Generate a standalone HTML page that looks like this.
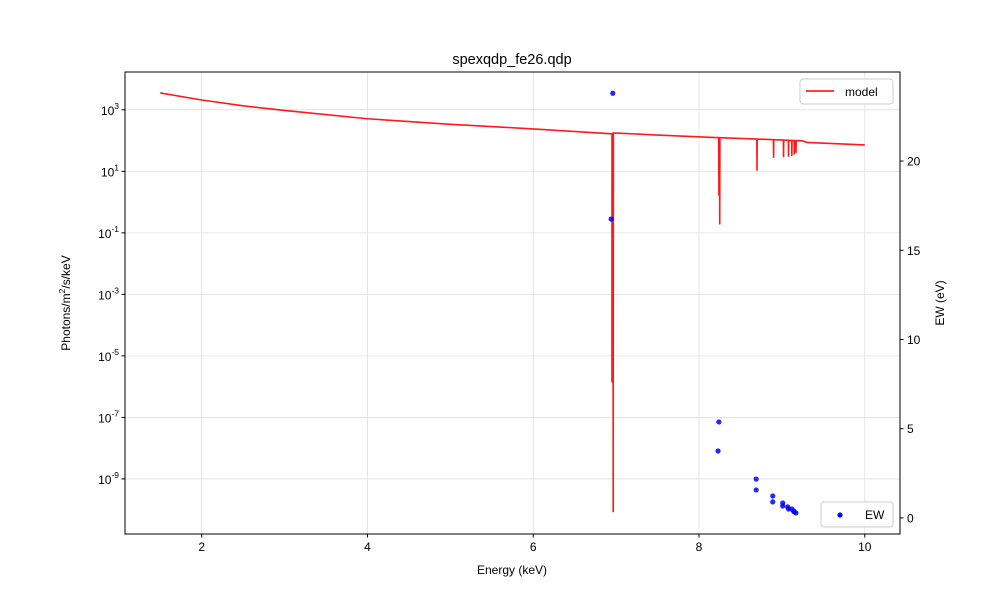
<!DOCTYPE html>
<html><head><meta charset="utf-8"><style>
body{margin:0;background:#fff}
svg text{font-family:"Liberation Sans","DejaVu Sans",sans-serif;fill:#000}
</style></head><body>
<svg id="c" width="1000" height="600" xmlns="http://www.w3.org/2000/svg">
<rect width="1000" height="600" fill="#fff"/>
<g id="grid"></g><g id="marks"></g><g id="axes"></g>
<text x="512" y="64" text-anchor="middle" font-size="14.5">spexqdp_fe26.qdp</text>
<text x="512" y="574" text-anchor="middle" font-size="12">Energy (keV)</text>
<text transform="translate(70,303) rotate(-90)" text-anchor="middle" font-size="12">Photons/m<tspan dy="-5" font-size="8.5">2</tspan><tspan dy="5">/s/keV</tspan></text>
<text transform="translate(944,303) rotate(-90)" text-anchor="middle" font-size="12">EW (eV)</text>
<g>
<rect x="800" y="79" width="93" height="25" rx="3" fill="#fff" fill-opacity="0.8" stroke="#ccc"/>
<line x1="806" y1="91" x2="834" y2="91" stroke="#ff0000" stroke-width="1.6"/>
<text x="845" y="96" font-size="12">model</text></g>
<g>
<rect x="821" y="502" width="72" height="25" rx="3" fill="#fff" fill-opacity="0.8" stroke="#ccc"/>
<circle cx="840" cy="515" r="2.6" fill="#0000ff"/>
<text x="865" y="519" font-size="12">EW</text></g>
</svg>
<script>
const contX=[1.5,2,2.5,3,4,5,6,6.95,6.97,7.5,8.2,9,9.25,9.3,10];
const contLog=[3.55,3.32,3.13,2.98,2.71,2.53,2.38,2.22,2.25,2.18,2.10,2.02,1.99,1.94,1.86];
const lineE=[6.95,6.965,8.24,8.25,8.70,8.90,9.02,9.08,9.12,9.15,9.17];
const lineMinLog=[-5.86,-10.08,0.21,-0.73,1.02,1.44,1.46,1.48,1.5,1.55,1.6];
const ewX=[6.96,6.94,8.24,8.23,8.69,8.69,8.89,8.89,9.01,9.01,9.07,9.08,9.12,9.14,9.15,9.17];
const ewY=[23.8,16.75,5.38,3.75,2.18,1.57,1.23,0.90,0.84,0.67,0.62,0.5,0.5,0.39,0.34,0.28];
const xTicks=[2,4,6,8,10];
const yLogTicks=[3,1,-1,-3,-5,-7,-9];
const yRTicks=[0,5,10,15,20];
const L=125,R=900,T=72,B=534;
const xMin=1.075,xMax=10.425,lMin=-10.79,lMax=4.23,rMin=-0.9,rMax=24.99;
const sx=v=>L+(v-xMin)/(xMax-xMin)*(R-L);
const sy=v=>B-(v-lMin)/(lMax-lMin)*(B-T);
const sr=v=>B-(v-rMin)/(rMax-rMin)*(B-T);
const NS="http://www.w3.org/2000/svg";
function mk(t,a,p){const e=document.createElementNS(NS,t);for(const k in a)e.setAttribute(k,a[k]);p.appendChild(e);return e;}
const grid=document.getElementById('grid'),marks=document.getElementById('marks'),axes=document.getElementById('axes');
function cont(x){for(let i=0;i<contX.length-1;i++){if(x<=contX[i+1]){const f=(x-contX[i])/(contX[i+1]-contX[i]);return contLog[i]+f*(contLog[i+1]-contLog[i]);}}return contLog[contLog.length-1];}
xTicks.forEach(v=>{const g=mk('line',{x1:sx(v),x2:sx(v),y1:T,y2:B,stroke:'#e0e0e0','stroke-width':0.8},grid);

});
yLogTicks.forEach(v=>{const g=mk('line',{x1:L,x2:R,y1:sy(v),y2:sy(v),stroke:'#e0e0e0','stroke-width':0.8},grid);

});
let pts=contX.map((x,i)=>[x,contLog[i]]);
lineE.forEach((e,i)=>{pts.push([e-0.002,cont(e-0.002)],[e,lineMinLog[i]],[e+0.002,cont(e+0.002)]);});
pts.sort((a,b)=>a[0]-b[0]);
const mp=mk('path',{d:pts.map((p,i)=>(i?'L':'M')+sx(p[0]).toFixed(2)+','+sy(p[1]).toFixed(2)).join(''),fill:'none',stroke:'#ff0000','stroke-opacity':0.9,'stroke-width':1.6},marks);


ewX.forEach((x,i)=>{const c=mk('circle',{cx:sx(x),cy:sr(ewY[i]),r:2.6,fill:'#0000ff','fill-opacity':0.85},marks);

});
const fr=mk('rect',{x:L,y:T,width:R-L,height:B-T,fill:'none',stroke:'#000','stroke-width':1},axes);


xTicks.forEach(v=>{mk('line',{x1:sx(v),x2:sx(v),y1:B,y2:B+3.5,stroke:'#000'},axes);const t=mk('text',{x:sx(v),y:B+17,'text-anchor':'middle','font-size':12},axes);t.textContent=v;

});
yLogTicks.forEach(v=>{mk('line',{x1:L-3.5,x2:L,y1:sy(v),y2:sy(v),stroke:'#000'},axes);const t=mk('text',{x:L-6,y:sy(v)+5,'text-anchor':'end','font-size':12},axes);


t.innerHTML='10<tspan dy="-6" font-size="8.5">'+v+'</tspan>';});
yRTicks.forEach(v=>{mk('line',{x1:R,x2:R+3.5,y1:sr(v),y2:sr(v),stroke:'#000'},axes);const t=mk('text',{x:R+7,y:sr(v)+4.5,'font-size':12},axes);t.textContent=v;

});
</script>
</body></html>
